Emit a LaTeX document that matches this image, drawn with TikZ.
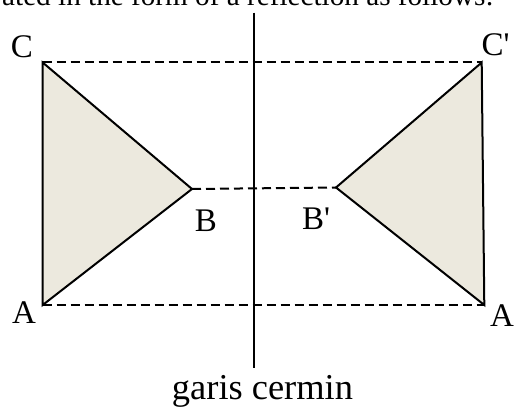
\documentclass[tikz,border=0pt]{standalone}
\usepackage{fontspec}
\setmainfont{Liberation Serif}
\definecolor{trifill}{RGB}{236,233,222}
\newcommand{\straightprime}{\XeTeXglyph\XeTeXcharglyph"27\relax}
\begin{document}
\begin{tikzpicture}[x=1pt,y=1pt,
  tri/.style={fill=trifill,draw=black,line width=2pt,line join=miter},
  dashline/.style={draw=black,line width=2pt,dash pattern=on 9pt off 5pt},
  mirror/.style={draw=black,line width=2.6pt},
  lbl/.style={inner sep=0pt,anchor=base,font=\fontsize{33}{35}\selectfont}]
\useasboundingbox (0,0) rectangle (517,410);
\clip (0,0) rectangle (517,410);
% top (cut) text
\node[inner sep=0pt,anchor=base west,font=\fontsize{29.2}{31}\selectfont] (top) at (2,404) {ated in the form of a reflection as follows:};
% vertices
\coordinate (C) at (42.7,347.5);
\coordinate (B) at (192,221);
\coordinate (A) at (42.7,105);
\coordinate (C2) at (481.7,347.5);
\coordinate (B2) at (336,222.5);
\coordinate (A2) at (484.3,105);
\coordinate (Mtop) at (254,397.3);
\coordinate (Mbot) at (254,42);
% triangles
\path[tri] (C) -- (B) -- (A) -- cycle;
\path[tri] (C2) -- (B2) -- (A2) -- cycle;
% dashed connectors
\path[dashline] (C) -- (C2);
\path[dashline] (B) -- (B2);
\path[dashline] (A) -- (A2);
% mirror line
\path[mirror] (Mtop) -- (Mbot);
% labels
\node[lbl] (lC) at (22,352) {C};
\node[lbl,anchor=base west] (lC2) at (481.5,354) {C\straightprime};
\node[lbl] (lB) at (206,178) {B};
\node[lbl] (lB2) at (316,180) {B\straightprime};
\node[lbl] (lA) at (24,86) {A};
\node[lbl] (lA2) at (502,83) {A};
\node[inner sep=0pt,anchor=base] (cap) at (262.5,11) {\resizebox{181pt}{!}{\fontsize{31}{33}\selectfont garis cermin}};
\end{tikzpicture}
\end{document}
